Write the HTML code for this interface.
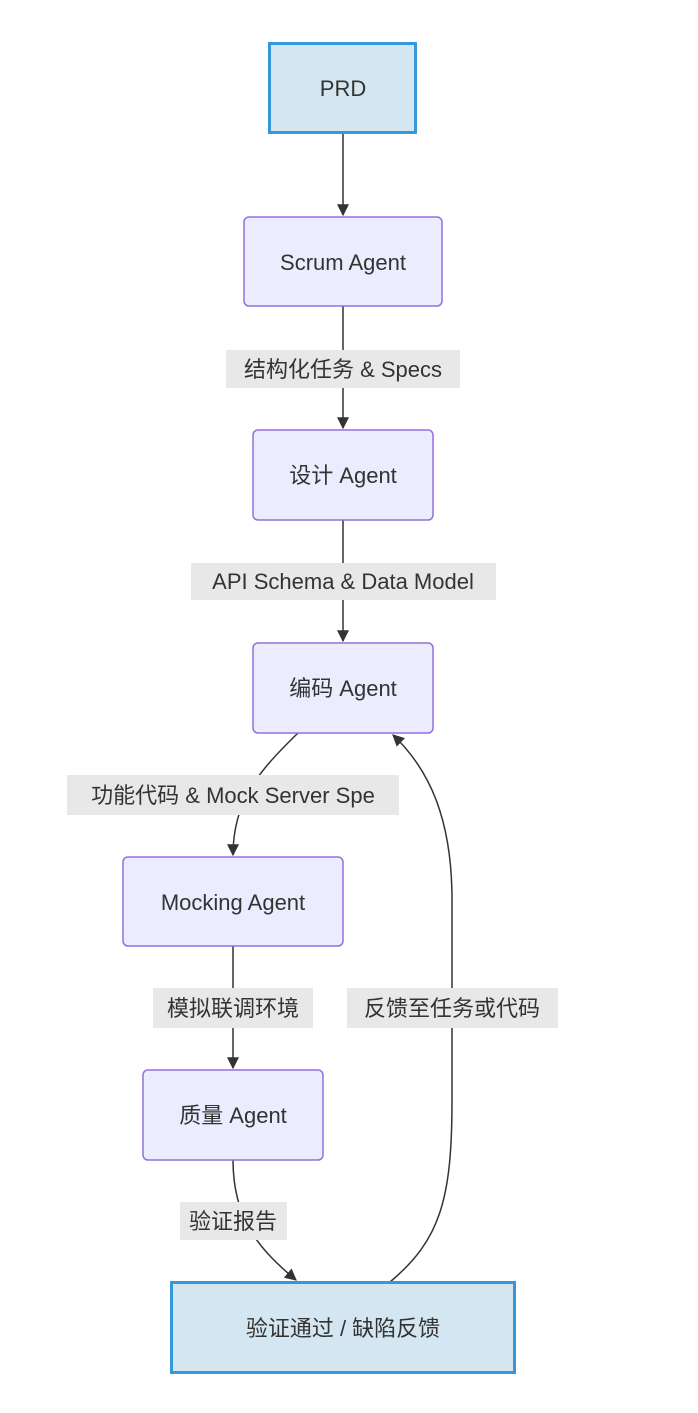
<!DOCTYPE html>
<html><head><meta charset="utf-8"><style>
body{margin:0;background:#fff;}
svg text{font-family:"Liberation Sans","Noto Sans CJK SC",sans-serif;fill:#333;font-size:22px;}
</style></head><body>
<svg width="698" height="1408" viewBox="0 0 698 1408" xmlns="http://www.w3.org/2000/svg">
<defs><marker id="a" viewBox="0 0 10 10" refX="9" refY="5" markerWidth="8" markerHeight="8" orient="auto"><path d="M0,0L10,5L0,10z" fill="#333"/></marker></defs>
<g fill="none" stroke="#333" stroke-width="1.5">
<path d="M343,133V215" marker-end="url(#a)"/>
<path d="M343,306V428" marker-end="url(#a)"/>
<path d="M343,520V641" marker-end="url(#a)"/>
<path d="M298,733C260,770 233,800 233,855" marker-end="url(#a)"/>
<path d="M233,946V1068" marker-end="url(#a)"/>
<path d="M233,1160C233,1220 260,1250 296,1280" marker-end="url(#a)"/>
<path d="M390,1282C440,1240 452,1200 452,1100V900C452,820 430,770 393,735" marker-end="url(#a)"/>
</g>
<g>
<rect x="226" y="350" width="234" height="38" fill="#e8e8e8"/>
<rect x="191" y="563" width="305" height="37" fill="#e8e8e8"/>
<rect x="67" y="775" width="332" height="40" fill="#e8e8e8"/>
<rect x="153" y="988" width="160" height="40" fill="#e8e8e8"/>
<rect x="347" y="988" width="211" height="40" fill="#e8e8e8"/>
<rect x="180" y="1202" width="107" height="38" fill="#e8e8e8"/>
</g>
<g text-anchor="middle">
<text x="343" y="377">结构化任务 &amp; Specs</text>
<text x="343" y="589">API Schema &amp; Data Model</text>
<text x="233" y="803">功能代码 &amp; Mock Server Spe</text>
<text x="233" y="1016">模拟联调环境</text>
<text x="452" y="1016">反馈至任务或代码</text>
<text x="233" y="1229">验证报告</text>
</g>
<rect x="269.5" y="43.5" width="146" height="89" fill="#d4e6f1" stroke="#3498db" stroke-width="3"/>
<rect x="244" y="217" width="198" height="89" rx="5" fill="#ECECFF" stroke="#9370DB" stroke-width="1.5"/>
<rect x="253" y="430" width="180" height="90" rx="5" fill="#ECECFF" stroke="#9370DB" stroke-width="1.5"/>
<rect x="253" y="643" width="180" height="90" rx="5" fill="#ECECFF" stroke="#9370DB" stroke-width="1.5"/>
<rect x="123" y="857" width="220" height="89" rx="5" fill="#ECECFF" stroke="#9370DB" stroke-width="1.5"/>
<rect x="143" y="1070" width="180" height="90" rx="5" fill="#ECECFF" stroke="#9370DB" stroke-width="1.5"/>
<rect x="171.5" y="1282.5" width="343" height="90" fill="#d4e6f1" stroke="#3498db" stroke-width="3"/>
<g text-anchor="middle">
<text x="343" y="96">PRD</text>
<text x="343" y="270">Scrum Agent</text>
<text x="343" y="483">设计 Agent</text>
<text x="343" y="696">编码 Agent</text>
<text x="233" y="910">Mocking Agent</text>
<text x="233" y="1123">质量 Agent</text>
<text x="343" y="1336">验证通过 / 缺陷反馈</text>
</g>
</svg>
</body></html>
